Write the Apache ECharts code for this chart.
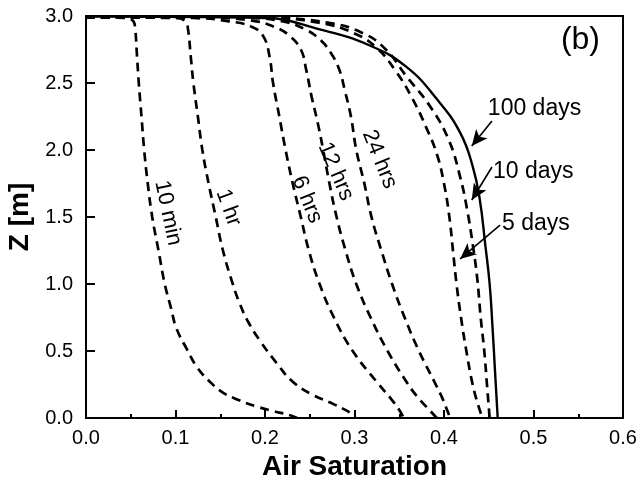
<!DOCTYPE html>
<html lang="en">
<head>
<meta charset="UTF-8">
<title>Air Saturation profiles (b)</title>
<script src="https://cdn.jsdelivr.net/npm/echarts@6.0.0/dist/echarts.min.js"></script>
<style>
    html, body { margin: 0; padding: 0; background: #fff; }
    #chart { width: 639px; height: 488px; }
</style>
</head>
<body>
<div id="chart"></div>
<script>
    // profiles: [air saturation, Z in m]
    const min10 = [[0, 2.99], [0.045, 2.985], [0.053, 2.96], [0.055, 2.9], [0.057, 2.7], [0.059, 2.5],
        [0.062, 2.25], [0.065, 2.0], [0.069, 1.75], [0.074, 1.5], [0.081, 1.25], [0.088, 1.0],
        [0.095, 0.82], [0.101, 0.67], [0.113, 0.51], [0.124, 0.38], [0.137, 0.28], [0.153, 0.19],
        [0.172, 0.13], [0.191, 0.085], [0.209, 0.052], [0.228, 0.02], [0.236, 0.0]];
    const hr1 = [[0, 2.99], [0.1, 2.985], [0.111, 2.96], [0.114, 2.9], [0.117, 2.7], [0.12, 2.5],
        [0.125, 2.25], [0.13, 2.0], [0.137, 1.75], [0.145, 1.5], [0.153, 1.25], [0.164, 1.0],
        [0.172, 0.85], [0.181, 0.72], [0.194, 0.58], [0.213, 0.41], [0.231, 0.27], [0.254, 0.17],
        [0.273, 0.115], [0.287, 0.07], [0.297, 0.03], [0.301, 0.0]];
    const hrs6 = [[0, 2.99], [0.12, 2.985], [0.16, 2.96], [0.185, 2.92], [0.198, 2.85], [0.205, 2.7],
        [0.209, 2.5], [0.216, 2.25], [0.223, 2.0], [0.231, 1.75], [0.24, 1.5], [0.249, 1.25],
        [0.261, 1.0], [0.277, 0.75], [0.298, 0.5], [0.326, 0.26], [0.34, 0.15], [0.35, 0.06], [0.355, 0.0]];
    const hrs12 = [[0, 2.99], [0.15, 2.985], [0.19, 2.96], [0.21, 2.92], [0.226, 2.86], [0.24, 2.75],
        [0.246, 2.6], [0.252, 2.4], [0.259, 2.2], [0.265, 2.0], [0.272, 1.75], [0.28, 1.5],
        [0.29, 1.25], [0.302, 1.0], [0.318, 0.75], [0.337, 0.5], [0.358, 0.27], [0.37, 0.16],
        [0.385, 0.05], [0.392, 0.0]];
    const hrs24 = [[0, 2.99], [0.18, 2.985], [0.22, 2.96], [0.245, 2.9], [0.262, 2.82], [0.274, 2.72],
        [0.283, 2.6], [0.289, 2.45], [0.296, 2.25], [0.302, 2.0], [0.311, 1.75], [0.319, 1.5],
        [0.33, 1.25], [0.342, 1.0], [0.356, 0.75], [0.372, 0.5], [0.39, 0.26], [0.398, 0.15],
        [0.404, 0.05], [0.407, 0.0]];
    const days5 = [[0, 2.99], [0.2, 2.985], [0.26, 2.95], [0.3, 2.87], [0.325, 2.76], [0.347, 2.58],
        [0.365, 2.38], [0.38, 2.17], [0.392, 1.97], [0.4, 1.75], [0.406, 1.5], [0.41, 1.25],
        [0.414, 1.0], [0.419, 0.75], [0.425, 0.5], [0.432, 0.25], [0.438, 0.1], [0.443, 0.0]];
    const days10 = [[0, 2.99], [0.2, 2.988], [0.27, 2.95], [0.31, 2.87], [0.335, 2.75], [0.358, 2.55],
        [0.384, 2.33], [0.405, 2.08], [0.418, 1.8], [0.426, 1.55], [0.432, 1.3], [0.437, 1.05],
        [0.441, 0.75], [0.445, 0.5], [0.448, 0.25], [0.451, 0.0]];
    const days100 = [[0, 2.995], [0.2, 2.985], [0.261, 2.9], [0.317, 2.78], [0.358, 2.62], [0.392, 2.38],
        [0.418, 2.13], [0.432, 1.88], [0.44, 1.63], [0.446, 1.3], [0.451, 1.0], [0.454, 0.7],
        [0.457, 0.35], [0.46, 0.0]];

    // rotated labels sitting on the early curves: [text, x, z, rotation]
    const curveLabels = [
        ['10 min', 0.0916, 1.53, -78],
        ['1 hr', 0.159, 1.57, -70],
        ['6 hrs', 0.247, 1.63, -68],
        ['12 hrs', 0.279, 1.84, -67],
        ['24 hrs', 0.328, 1.93, -68]
    ];
    // arrow labels on the right: [text, text x, text z, arrow from x, from z, to x, to z]
    const arrowLabels = [
        ['100 days', 0.449, 2.306, 0.4536, 2.216, 0.431, 2.03],
        ['10 days', 0.4547, 1.836, 0.4536, 1.873, 0.431, 1.627],
        ['5 days', 0.4648, 1.448, 0.4626, 1.44, 0.418, 1.187]
    ];

    const font = 'Liberation Sans';
    const myChart = echarts.init(document.getElementById('chart'));

    function profile(name, data, dashed) {
        return {
            name: name,
            type: 'line',
            data: data,
            smooth: 0.45,
            symbol: 'none',
            animation: false,
            lineStyle: { color: '#000', width: dashed ? 2.7 : 2.4, type: dashed ? [9, 6] : 'solid' }
        };
    }

    const series = [
        profile('10 min', min10, true),
        profile('1 hr', hr1, true),
        profile('6 hrs', hrs6, true),
        profile('12 hrs', hrs12, true),
        profile('24 hrs', hrs24, true),
        profile('5 days', days5, true),
        profile('10 days', days10, true),
        profile('100 days', days100, false)
    ];

    // text along curves
    series.push({
        type: 'line',
        data: [],
        silent: true,
        markPoint: {
            symbol: 'circle',
            symbolSize: 0,
            animation: false,
            data: curveLabels.map(l => ({
                coord: [l[1], l[2]],
                label: {
                    show: true, position: 'inside', formatter: l[0], rotate: l[3],
                    color: '#000', fontFamily: font, fontSize: 22
                }
            }))
        }
    });

    // arrows and their text
    series.push({
        type: 'line',
        data: [],
        silent: true,
        markPoint: {
            symbol: 'circle',
            symbolSize: 0,
            animation: false,
            data: arrowLabels.map(l => ({
                coord: [l[1], l[2]],
                label: {
                    show: true, position: 'right', distance: 0, formatter: l[0],
                    color: '#000', fontFamily: font, fontSize: 23
                }
            }))
        },
        markLine: {
            symbol: ['none', 'arrow'],
            symbolSize: [11, 16],
            animation: false,
            label: { show: false },
            lineStyle: { color: '#000', width: 1.6, type: 'solid' },
            data: arrowLabels.map(l => [{ coord: [l[3], l[4]] }, { coord: [l[5], l[6]] }])
        }
    });

    const option = {
        animation: false,
        backgroundColor: '#fff',
        grid: {
            left: 86, right: 16, top: 16, bottom: 70,
            outerBoundsMode: 'none',
            containLabel: false,
            show: true, borderColor: '#000', borderWidth: 2, backgroundColor: 'transparent'
        },
        xAxis: {
            type: 'value',
            min: 0, max: 0.6, interval: 0.1,
            name: 'Air Saturation',
            nameLocation: 'middle',
            nameGap: 31,
            nameTextStyle: { fontFamily: font, fontSize: 28, fontWeight: 'bold', color: '#000' },
            axisLine: { lineStyle: { color: '#000', width: 2 } },
            axisTick: { inside: true, length: 8, lineStyle: { width: 2, color: '#000' } },
            minorTick: { show: true, splitNumber: 2, length: 4, lineStyle: { width: 2, color: '#000' } },
            splitLine: { show: false },
            axisLabel: {
                margin: 10, color: '#000', fontFamily: font, fontSize: 20,
                formatter: v => v.toFixed(1)
            }
        },
        yAxis: {
            type: 'value',
            min: 0, max: 3, interval: 0.5,
            name: 'Z [m]',
            nameLocation: 'middle',
            nameGap: 52,
            nameTextStyle: { fontFamily: font, fontSize: 28, fontWeight: 'bold', color: '#000' },
            axisLine: { lineStyle: { color: '#000', width: 2 } },
            axisTick: { inside: true, length: 9, lineStyle: { width: 2, color: '#000' } },
            splitLine: { show: false },
            axisLabel: {
                margin: 13, color: '#000', fontFamily: font, fontSize: 20,
                formatter: v => v.toFixed(1)
            }
        },
        graphic: [{
            type: 'text',
            right: 39,
            top: 24,
            style: { text: '(b)', font: '32px "Liberation Sans"', fill: '#000' }
        }],
        series: series
    };

    myChart.setOption(option);
</script>
</body>
</html>
